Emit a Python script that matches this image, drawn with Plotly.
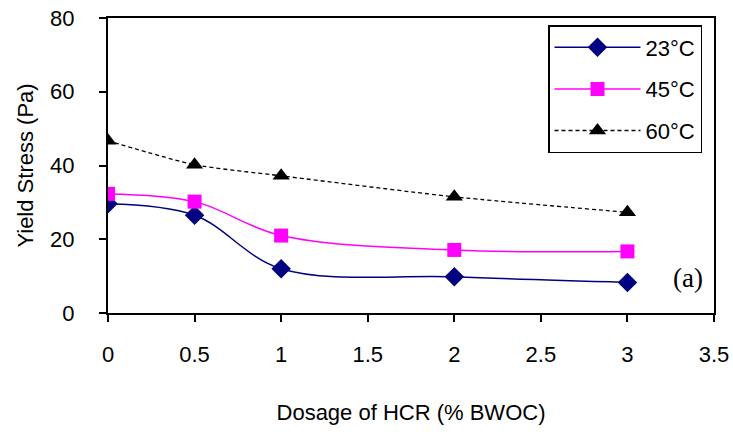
import plotly.graph_objects as go

dosage = [0, 0.5, 1, 2, 3]
y23 = [29.6, 26.5, 12.0, 9.8, 8.3]
y45 = [32.3, 30.2, 21.0, 17.1, 16.7]
y60 = [46.7, 40.2, 37.2, 31.5, 27.3]
x_ticks = [0, 0.5, 1, 1.5, 2, 2.5, 3, 3.5]
y_ticks = [0, 20, 40, 60, 80]

fig = go.Figure()
fig.add_trace(go.Scatter(x=dosage, y=y23, name="23°C", mode="lines+markers", legendgroup="a",
                         line=dict(color="#000080", width=1.5, shape="spline", smoothing=1),
                         marker=dict(symbol="diamond", size=15, color="#000080")))
fig.add_trace(go.Scatter(x=dosage, y=y45, name="45°C", mode="lines+markers", legendgroup="b",
                         line=dict(color="#FF00FF", width=1.5, shape="spline", smoothing=1),
                         marker=dict(symbol="square", size=14, color="#FF00FF")))
fig.add_trace(go.Scatter(x=dosage, y=y60, name="60°C", mode="lines+markers", legendgroup="c",
                         line=dict(color="black", width=1.3, dash="4px,3px", shape="spline", smoothing=0.6),
                         marker=dict(symbol="triangle-up", size=15, color="black")))

fig.add_annotation(x=3.35, y=9.5, xref="x", yref="y", text="(a)", showarrow=False,
                   font=dict(family="Liberation Serif", size=27, color="black"))

fig.update_layout(
    width=733, height=436,
    margin=dict(l=108, r=19, t=18, b=123),
    paper_bgcolor="white", plot_bgcolor="white",
    font=dict(family="Liberation Sans, Arial", size=22, color="black"),
    showlegend=True,
    legend=dict(x=(702 - 108) / 606, y=(313 - 25) / 295, xanchor="right", yanchor="top",
                bordercolor="black", borderwidth=1.5, bgcolor="white",
                font=dict(size=22), tracegroupgap=10, itemwidth=86),
)
fig.update_xaxes(range=[0, 3.5], tickvals=x_ticks, ticktext=[str(v) for v in x_ticks],
                 showgrid=False, zeroline=False, showline=True, linecolor="black", linewidth=2,
                 mirror=True, ticks="outside", ticklen=7, tickwidth=1.5, tickcolor="black",
                 ticklabelstandoff=14, automargin=False, ticklabeloverflow="allow",
                 title=dict(text="Dosage of HCR (% BWOC)", standoff=38, font=dict(size=22)))
fig.update_yaxes(range=[0, 80], tickvals=y_ticks, showgrid=False, zeroline=False,
                 showline=True, linecolor="black", linewidth=2, mirror=True,
                 ticks="outside", ticklen=7, tickwidth=1.5, tickcolor="black",
                 ticklabelstandoff=20, automargin=False, ticklabeloverflow="allow",
                 title=dict(text="Yield Stress (Pa)", standoff=10, font=dict(size=22)))

fig.write_html("out.html", config={"displayModeBar": False},
               post_script="document.body.style.margin='0';document.body.style.overflow='hidden';")
